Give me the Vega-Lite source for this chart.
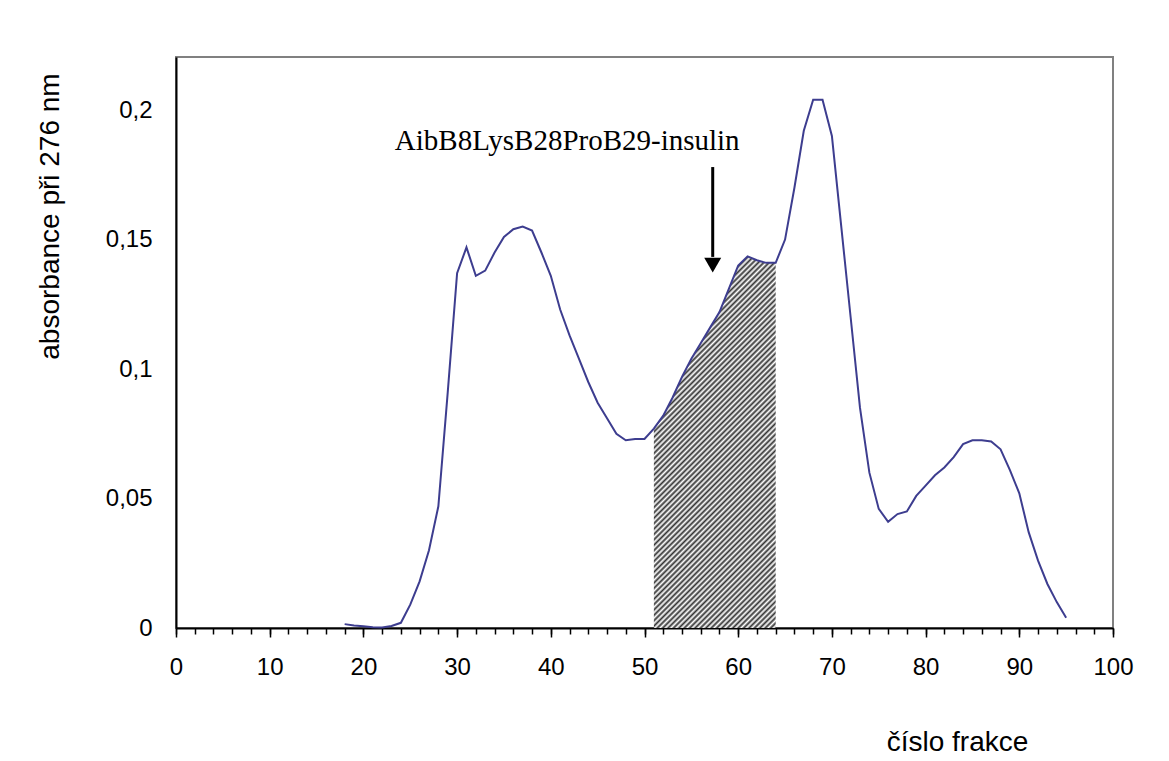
{
  "$schema": "https://vega.github.io/schema/vega-lite/v6.json",
  "width": 937,
  "height": 571,
  "autosize": "none",
  "padding": {"left": 176, "top": 57, "right": 56, "bottom": 133},
  "background": "white",
  "config": {
    "view": {"stroke": "#808080", "strokeWidth": 2},
    "axis": {"grid": false}
  },
  "datasets": {
    "curve": [
      {"x": 18, "y": 0.0015}, {"x": 19, "y": 0.001}, {"x": 20, "y": 0.0007}, {"x": 21, "y": 0.0003},
      {"x": 22, "y": 0.0002}, {"x": 23, "y": 0.0008}, {"x": 24, "y": 0.002}, {"x": 25, "y": 0.009},
      {"x": 26, "y": 0.018}, {"x": 27, "y": 0.03}, {"x": 28, "y": 0.047}, {"x": 29, "y": 0.091},
      {"x": 30, "y": 0.137}, {"x": 31, "y": 0.147}, {"x": 32, "y": 0.136}, {"x": 33, "y": 0.138},
      {"x": 34, "y": 0.145}, {"x": 35, "y": 0.151}, {"x": 36, "y": 0.154}, {"x": 37, "y": 0.155},
      {"x": 38, "y": 0.1535}, {"x": 39, "y": 0.145}, {"x": 40, "y": 0.136}, {"x": 41, "y": 0.123},
      {"x": 42, "y": 0.113}, {"x": 43, "y": 0.104}, {"x": 44, "y": 0.095}, {"x": 45, "y": 0.087},
      {"x": 46, "y": 0.081}, {"x": 47, "y": 0.075}, {"x": 48, "y": 0.0725}, {"x": 49, "y": 0.073},
      {"x": 50, "y": 0.073}, {"x": 51, "y": 0.077}, {"x": 52, "y": 0.082}, {"x": 53, "y": 0.089},
      {"x": 54, "y": 0.097}, {"x": 55, "y": 0.104}, {"x": 56, "y": 0.11}, {"x": 57, "y": 0.116},
      {"x": 58, "y": 0.122}, {"x": 59, "y": 0.131}, {"x": 60, "y": 0.14}, {"x": 61, "y": 0.1435},
      {"x": 62, "y": 0.142}, {"x": 63, "y": 0.141}, {"x": 64, "y": 0.141}, {"x": 65, "y": 0.15},
      {"x": 66, "y": 0.17}, {"x": 67, "y": 0.192}, {"x": 68, "y": 0.204}, {"x": 69, "y": 0.204},
      {"x": 70, "y": 0.19}, {"x": 71, "y": 0.155}, {"x": 72, "y": 0.12}, {"x": 73, "y": 0.085},
      {"x": 74, "y": 0.06}, {"x": 75, "y": 0.046}, {"x": 76, "y": 0.041}, {"x": 77, "y": 0.044},
      {"x": 78, "y": 0.045}, {"x": 79, "y": 0.051}, {"x": 80, "y": 0.055}, {"x": 81, "y": 0.059},
      {"x": 82, "y": 0.062}, {"x": 83, "y": 0.066}, {"x": 84, "y": 0.071}, {"x": 85, "y": 0.0725},
      {"x": 86, "y": 0.0725}, {"x": 87, "y": 0.072}, {"x": 88, "y": 0.069}, {"x": 89, "y": 0.061},
      {"x": 90, "y": 0.052}, {"x": 91, "y": 0.037}, {"x": 92, "y": 0.026}, {"x": 93, "y": 0.017},
      {"x": 94, "y": 0.01}, {"x": 95, "y": 0.004}
    ]
  },
  "layer": [
    {
      "data": {"name": "curve"},
      "transform": [{"filter": "datum.x >= 51 && datum.x <= 64"}],
      "mark": {
        "type": "area",
        "fill": {
          "gradient": "linear",
          "x1": 0, "y1": 0, "x2": 0.4299, "y2": 1.3115,
          "stops": [
            {"offset": 0, "color": "#ffffff"}, {"offset": 0.005, "color": "#333333"}, {"offset": 0.01, "color": "#ffffff"}, {"offset": 0.015, "color": "#333333"},
            {"offset": 0.02, "color": "#ffffff"}, {"offset": 0.025, "color": "#333333"}, {"offset": 0.03, "color": "#ffffff"}, {"offset": 0.035, "color": "#333333"},
            {"offset": 0.04, "color": "#ffffff"}, {"offset": 0.045, "color": "#333333"}, {"offset": 0.05, "color": "#ffffff"}, {"offset": 0.055, "color": "#333333"},
            {"offset": 0.06, "color": "#ffffff"}, {"offset": 0.065, "color": "#333333"}, {"offset": 0.07, "color": "#ffffff"}, {"offset": 0.075, "color": "#333333"},
            {"offset": 0.08, "color": "#ffffff"}, {"offset": 0.085, "color": "#333333"}, {"offset": 0.09, "color": "#ffffff"}, {"offset": 0.095, "color": "#333333"},
            {"offset": 0.1, "color": "#ffffff"}, {"offset": 0.105, "color": "#333333"}, {"offset": 0.11, "color": "#ffffff"}, {"offset": 0.115, "color": "#333333"},
            {"offset": 0.12, "color": "#ffffff"}, {"offset": 0.125, "color": "#333333"}, {"offset": 0.13, "color": "#ffffff"}, {"offset": 0.135, "color": "#333333"},
            {"offset": 0.14, "color": "#ffffff"}, {"offset": 0.145, "color": "#333333"}, {"offset": 0.15, "color": "#ffffff"}, {"offset": 0.155, "color": "#333333"},
            {"offset": 0.16, "color": "#ffffff"}, {"offset": 0.165, "color": "#333333"}, {"offset": 0.17, "color": "#ffffff"}, {"offset": 0.175, "color": "#333333"},
            {"offset": 0.18, "color": "#ffffff"}, {"offset": 0.185, "color": "#333333"}, {"offset": 0.19, "color": "#ffffff"}, {"offset": 0.195, "color": "#333333"},
            {"offset": 0.2, "color": "#ffffff"}, {"offset": 0.205, "color": "#333333"}, {"offset": 0.21, "color": "#ffffff"}, {"offset": 0.215, "color": "#333333"},
            {"offset": 0.22, "color": "#ffffff"}, {"offset": 0.225, "color": "#333333"}, {"offset": 0.23, "color": "#ffffff"}, {"offset": 0.235, "color": "#333333"},
            {"offset": 0.24, "color": "#ffffff"}, {"offset": 0.245, "color": "#333333"}, {"offset": 0.25, "color": "#ffffff"}, {"offset": 0.255, "color": "#333333"},
            {"offset": 0.26, "color": "#ffffff"}, {"offset": 0.265, "color": "#333333"}, {"offset": 0.27, "color": "#ffffff"}, {"offset": 0.275, "color": "#333333"},
            {"offset": 0.28, "color": "#ffffff"}, {"offset": 0.285, "color": "#333333"}, {"offset": 0.29, "color": "#ffffff"}, {"offset": 0.295, "color": "#333333"},
            {"offset": 0.3, "color": "#ffffff"}, {"offset": 0.305, "color": "#333333"}, {"offset": 0.31, "color": "#ffffff"}, {"offset": 0.315, "color": "#333333"},
            {"offset": 0.32, "color": "#ffffff"}, {"offset": 0.325, "color": "#333333"}, {"offset": 0.33, "color": "#ffffff"}, {"offset": 0.335, "color": "#333333"},
            {"offset": 0.34, "color": "#ffffff"}, {"offset": 0.345, "color": "#333333"}, {"offset": 0.35, "color": "#ffffff"}, {"offset": 0.355, "color": "#333333"},
            {"offset": 0.36, "color": "#ffffff"}, {"offset": 0.365, "color": "#333333"}, {"offset": 0.37, "color": "#ffffff"}, {"offset": 0.375, "color": "#333333"},
            {"offset": 0.38, "color": "#ffffff"}, {"offset": 0.385, "color": "#333333"}, {"offset": 0.39, "color": "#ffffff"}, {"offset": 0.395, "color": "#333333"},
            {"offset": 0.4, "color": "#ffffff"}, {"offset": 0.405, "color": "#333333"}, {"offset": 0.41, "color": "#ffffff"}, {"offset": 0.415, "color": "#333333"},
            {"offset": 0.42, "color": "#ffffff"}, {"offset": 0.425, "color": "#333333"}, {"offset": 0.43, "color": "#ffffff"}, {"offset": 0.435, "color": "#333333"},
            {"offset": 0.44, "color": "#ffffff"}, {"offset": 0.445, "color": "#333333"}, {"offset": 0.45, "color": "#ffffff"}, {"offset": 0.455, "color": "#333333"},
            {"offset": 0.46, "color": "#ffffff"}, {"offset": 0.465, "color": "#333333"}, {"offset": 0.47, "color": "#ffffff"}, {"offset": 0.475, "color": "#333333"},
            {"offset": 0.48, "color": "#ffffff"}, {"offset": 0.485, "color": "#333333"}, {"offset": 0.49, "color": "#ffffff"}, {"offset": 0.495, "color": "#333333"},
            {"offset": 0.5, "color": "#ffffff"}, {"offset": 0.505, "color": "#333333"}, {"offset": 0.51, "color": "#ffffff"}, {"offset": 0.515, "color": "#333333"},
            {"offset": 0.52, "color": "#ffffff"}, {"offset": 0.525, "color": "#333333"}, {"offset": 0.53, "color": "#ffffff"}, {"offset": 0.535, "color": "#333333"},
            {"offset": 0.54, "color": "#ffffff"}, {"offset": 0.545, "color": "#333333"}, {"offset": 0.55, "color": "#ffffff"}, {"offset": 0.555, "color": "#333333"},
            {"offset": 0.56, "color": "#ffffff"}, {"offset": 0.565, "color": "#333333"}, {"offset": 0.57, "color": "#ffffff"}, {"offset": 0.575, "color": "#333333"},
            {"offset": 0.58, "color": "#ffffff"}, {"offset": 0.585, "color": "#333333"}, {"offset": 0.59, "color": "#ffffff"}, {"offset": 0.595, "color": "#333333"},
            {"offset": 0.6, "color": "#ffffff"}, {"offset": 0.605, "color": "#333333"}, {"offset": 0.61, "color": "#ffffff"}, {"offset": 0.615, "color": "#333333"},
            {"offset": 0.62, "color": "#ffffff"}, {"offset": 0.625, "color": "#333333"}, {"offset": 0.63, "color": "#ffffff"}, {"offset": 0.635, "color": "#333333"},
            {"offset": 0.64, "color": "#ffffff"}, {"offset": 0.645, "color": "#333333"}, {"offset": 0.65, "color": "#ffffff"}, {"offset": 0.655, "color": "#333333"},
            {"offset": 0.66, "color": "#ffffff"}, {"offset": 0.665, "color": "#333333"}, {"offset": 0.67, "color": "#ffffff"}, {"offset": 0.675, "color": "#333333"},
            {"offset": 0.68, "color": "#ffffff"}, {"offset": 0.685, "color": "#333333"}, {"offset": 0.69, "color": "#ffffff"}, {"offset": 0.695, "color": "#333333"},
            {"offset": 0.7, "color": "#ffffff"}, {"offset": 0.705, "color": "#333333"}, {"offset": 0.71, "color": "#ffffff"}, {"offset": 0.715, "color": "#333333"},
            {"offset": 0.72, "color": "#ffffff"}, {"offset": 0.725, "color": "#333333"}, {"offset": 0.73, "color": "#ffffff"}, {"offset": 0.735, "color": "#333333"},
            {"offset": 0.74, "color": "#ffffff"}, {"offset": 0.745, "color": "#333333"}, {"offset": 0.75, "color": "#ffffff"}, {"offset": 0.755, "color": "#333333"},
            {"offset": 0.76, "color": "#ffffff"}, {"offset": 0.765, "color": "#333333"}, {"offset": 0.77, "color": "#ffffff"}, {"offset": 0.775, "color": "#333333"},
            {"offset": 0.78, "color": "#ffffff"}, {"offset": 0.785, "color": "#333333"}, {"offset": 0.79, "color": "#ffffff"}, {"offset": 0.795, "color": "#333333"},
            {"offset": 0.8, "color": "#ffffff"}, {"offset": 0.805, "color": "#333333"}, {"offset": 0.81, "color": "#ffffff"}, {"offset": 0.815, "color": "#333333"},
            {"offset": 0.82, "color": "#ffffff"}, {"offset": 0.825, "color": "#333333"}, {"offset": 0.83, "color": "#ffffff"}, {"offset": 0.835, "color": "#333333"},
            {"offset": 0.84, "color": "#ffffff"}, {"offset": 0.845, "color": "#333333"}, {"offset": 0.85, "color": "#ffffff"}, {"offset": 0.855, "color": "#333333"},
            {"offset": 0.86, "color": "#ffffff"}, {"offset": 0.865, "color": "#333333"}, {"offset": 0.87, "color": "#ffffff"}, {"offset": 0.875, "color": "#333333"},
            {"offset": 0.88, "color": "#ffffff"}, {"offset": 0.885, "color": "#333333"}, {"offset": 0.89, "color": "#ffffff"}, {"offset": 0.895, "color": "#333333"},
            {"offset": 0.9, "color": "#ffffff"}, {"offset": 0.905, "color": "#333333"}, {"offset": 0.91, "color": "#ffffff"}, {"offset": 0.915, "color": "#333333"},
            {"offset": 0.92, "color": "#ffffff"}, {"offset": 0.925, "color": "#333333"}, {"offset": 0.93, "color": "#ffffff"}, {"offset": 0.935, "color": "#333333"},
            {"offset": 0.94, "color": "#ffffff"}, {"offset": 0.945, "color": "#333333"}, {"offset": 0.95, "color": "#ffffff"}, {"offset": 0.955, "color": "#333333"},
            {"offset": 0.96, "color": "#ffffff"}, {"offset": 0.965, "color": "#333333"}, {"offset": 0.97, "color": "#ffffff"}, {"offset": 0.975, "color": "#333333"},
            {"offset": 0.98, "color": "#ffffff"}, {"offset": 0.985, "color": "#333333"}, {"offset": 0.99, "color": "#ffffff"}, {"offset": 0.995, "color": "#333333"},
            {"offset": 1, "color": "#ffffff"}
          ]
        },
        "strokeWidth": 0
      },
      "encoding": {
        "x": {
          "field": "x", "type": "quantitative",
          "scale": {"domain": [0, 100], "nice": false, "zero": false},
          "axis": {
            "orient": "bottom",
            "values": [0,2,4,6,8,10,12,14,16,18,20,22,24,26,28,30,32,34,36,38,40,42,44,46,48,50,52,54,56,58,60,62,64,66,68,70,72,74,76,78,80,82,84,86,88,90,92,94,96,98,100],
            "labels": false, "domain": false, "title": null,
            "ticks": true, "tickSize": 6, "tickColor": "#000000", "tickWidth": 1.5
          }
        },
        "y": {
          "field": "y", "type": "quantitative",
          "scale": {"domain": [0, 0.2205], "nice": false, "zero": false},
          "axis": null
        }
      }
    },
    {
      "data": {"name": "curve"},
      "mark": {"type": "line", "color": "#3d3d8f", "strokeWidth": 2},
      "encoding": {
        "x": {
          "field": "x", "type": "quantitative",
          "scale": {"domain": [0, 100], "nice": false, "zero": false},
          "axis": {
            "orient": "bottom",
            "values": [0,10,20,30,40,50,60,70,80,90,100],
            "domain": true, "domainColor": "#000000", "domainWidth": 2,
            "ticks": true, "tickSize": 9, "tickColor": "#000000", "tickWidth": 1.5,
            "labelFont": "Liberation Sans", "labelFontSize": 24, "labelColor": "#000000",
            "labelPadding": 18, "labelFlush": false, "labelOverlap": false,
            "title": "číslo frakce",
            "titleFont": "Liberation Sans", "titleFontSize": 28, "titleFontWeight": "normal", "titleColor": "#000000",
            "titleX": 781, "titleY": 122, "titleAlign": "center", "titleBaseline": "alphabetic"
          }
        },
        "y": {
          "field": "y", "type": "quantitative",
          "scale": {"domain": [0, 0.2205], "nice": false, "zero": false},
          "axis": {
            "orient": "left",
            "values": [0, 0.05, 0.1, 0.15, 0.2],
            "labelExpr": "replace(toString(datum.value), '.', ',')",
            "domain": true, "domainColor": "#000000", "domainWidth": 2,
            "ticks": false, "tickSize": 0,
            "labelFont": "Liberation Sans", "labelFontSize": 24, "labelColor": "#000000",
            "labelPadding": 24, "labelFlush": false, "labelOverlap": false,
            "title": "absorbance při 276 nm",
            "titleFont": "Liberation Sans", "titleFontSize": 28, "titleFontWeight": "normal", "titleColor": "#000000",
            "titleX": -118, "titleY": 159, "titleAngle": 270, "titleAlign": "center", "titleBaseline": "alphabetic"
          }
        }
      }
    },
    {
      "data": {"values": [{"x": 41.75, "y": 0.1846, "label": "AibB8LysB28ProB29-insulin"}]},
      "mark": {"type": "text", "font": "Liberation Serif", "fontSize": 29, "align": "center", "baseline": "alphabetic", "color": "#000000"},
      "encoding": {
        "x": {"field": "x", "type": "quantitative", "scale": {"domain": [0, 100], "nice": false, "zero": false}, "axis": null},
        "y": {"field": "y", "type": "quantitative", "scale": {"domain": [0, 0.2205], "nice": false, "zero": false}, "axis": null},
        "text": {"field": "label"}
      }
    },
    {
      "data": {"values": [{"x": 57.28, "y": 0.178, "y2": 0.1433}]},
      "mark": {"type": "rule", "color": "#000000", "strokeWidth": 3},
      "encoding": {
        "x": {"field": "x", "type": "quantitative", "scale": {"domain": [0, 100], "nice": false, "zero": false}, "axis": null},
        "y": {"field": "y", "type": "quantitative", "scale": {"domain": [0, 0.2205], "nice": false, "zero": false}, "axis": null},
        "y2": {"field": "y2"}
      }
    },
    {
      "data": {"values": [{"x": 57.28, "y": 0.1401}]},
      "mark": {"type": "point", "shape": "triangle-down", "filled": true, "size": 289, "color": "#000000", "opacity": 1},
      "encoding": {
        "x": {"field": "x", "type": "quantitative", "scale": {"domain": [0, 100], "nice": false, "zero": false}, "axis": null},
        "y": {"field": "y", "type": "quantitative", "scale": {"domain": [0, 0.2205], "nice": false, "zero": false}, "axis": null}
      }
    }
  ],
  "resolve": {"axis": {"x": "independent", "y": "independent"}}
}
